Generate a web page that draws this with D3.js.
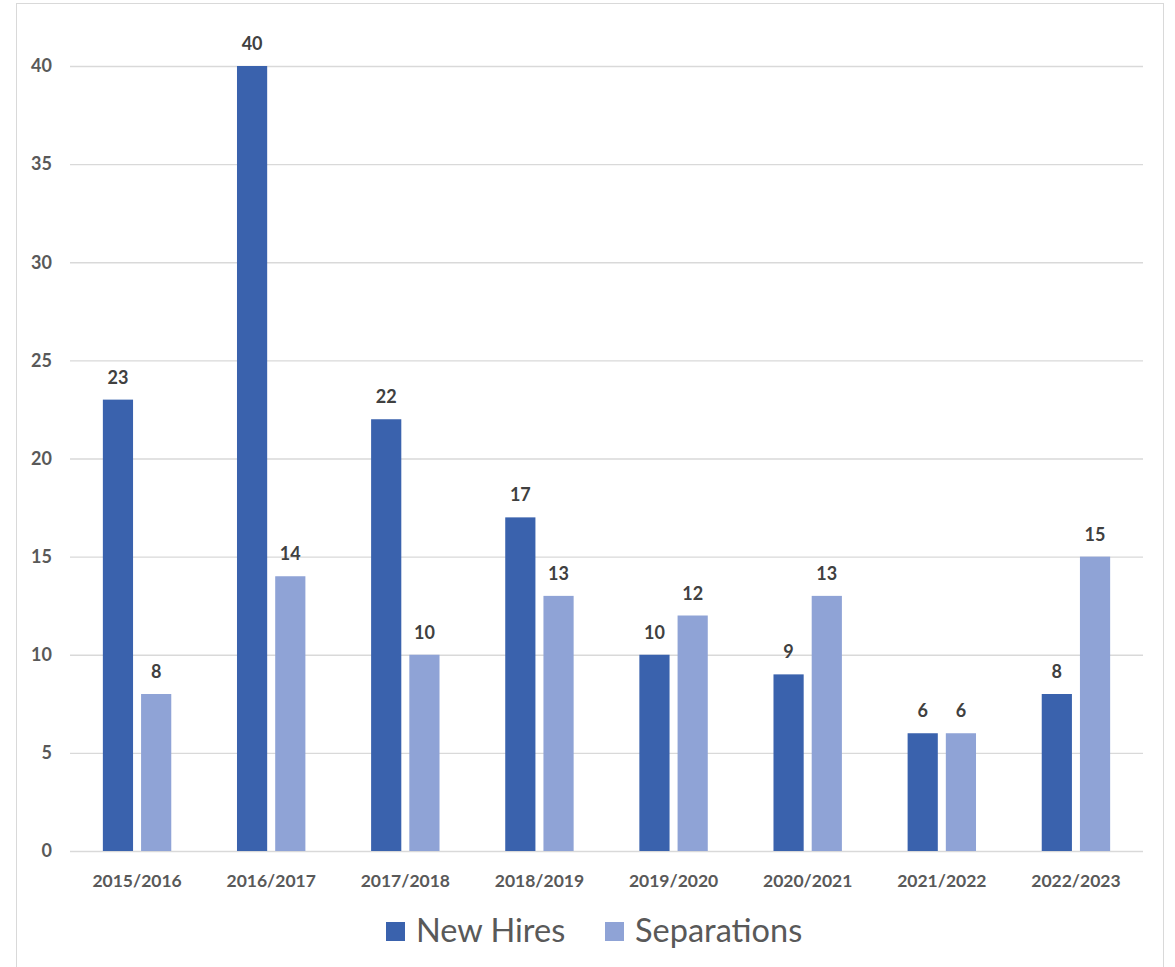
<!DOCTYPE html>
<html><head><meta charset="utf-8">
<script src="https://cdn.jsdelivr.net/npm/d3@7"></script>
<style>body{margin:0;background:#fff}svg{display:block}</style>
</head><body><svg id="c" width="1175" height="967"></svg>
<script>
const categories = ["2015/2016","2016/2017","2017/2018","2018/2019","2019/2020","2020/2021","2021/2022","2022/2023"];
const seriesNames = ["New Hires","Separations"];
const newHires = [23,40,22,17,10,9,6,8];
const separations = [8,14,10,13,12,13,6,15];
const yTicks = [0,5,10,15,20,25,30,35,40];
const colors = ["#3a62ad","#8fa3d6"];

const svg = d3.select("#c");
const font = "Lato, 'Open Sans', sans-serif";
svg.append("rect").attr("x",16.5).attr("y",3.5).attr("width",1147).attr("height",980)
  .attr("fill","#fff").attr("stroke","#d9d9d9");

const mLeft=70, mRight=1143, mTop=66, mBottom=851;
const y = d3.scaleLinear().domain([0,40]).range([mBottom,mTop]);
const x0 = d3.scaleBand().domain(categories).range([mLeft,mRight]).paddingInner(0.49).paddingOuter(0.245);
const x1 = d3.scaleBand().domain(seriesNames).range([0,x0.bandwidth()]).paddingInner(0.21);

const yAxis = d3.axisLeft(y).tickValues(yTicks).tickSize(-(mRight-mLeft)).tickPadding(18);
const gy = svg.append("g").attr("transform",`translate(${mLeft},0)`).call(yAxis);
gy.select(".domain").remove();
gy.selectAll(".tick line").attr("stroke","#d9d9d9").attr("stroke-width",1.3);
gy.selectAll(".tick text").attr("fill","#595959").style("font-family",font).style("font-weight","bold").style("font-size","18px");

const xAxis = d3.axisBottom(x0).tickSize(0).tickPadding(24);
const gx = svg.append("g").attr("transform",`translate(0,${mBottom})`).call(xAxis);
gx.select(".domain").remove();
gx.selectAll(".tick text").attr("fill","#595959").style("font-family",font).style("font-weight","bold").style("font-size","17.5px");

const data = categories.map((c,i)=>({cat:c, vals:[{s:seriesNames[0],v:newHires[i]},{s:seriesNames[1],v:separations[i]}]}));
const g = svg.selectAll(".grp").data(data).join("g").attr("transform",d=>`translate(${x0(d.cat)},0)`);
g.selectAll("rect").data(d=>d.vals).join("rect")
  .attr("x",d=>x1(d.s)).attr("width",x1.bandwidth())
  .attr("y",d=>y(d.v)).attr("height",d=>y(0)-y(d.v))
  .attr("fill",(d,i)=>colors[i]);
g.selectAll("text").data(d=>d.vals).join("text")
  .attr("x",d=>x1(d.s)+x1.bandwidth()/2).attr("y",d=>y(d.v)-16)
  .attr("text-anchor","middle").attr("fill","#404040")
  .style("font-family",font).style("font-weight","bold").style("font-size","18px")
  .text(d=>d.v);

const legendX = [386,605];
const lg = svg.selectAll(".lg").data(seriesNames).join("g").attr("transform",(d,i)=>`translate(${legendX[i]},922)`);
lg.append("rect").attr("width",19).attr("height",19).attr("fill",(d,i)=>colors[i]);
lg.append("text").attr("x",30).attr("y",20).attr("fill","#595959")
  .style("font-family",font).style("font-size","32.5px").text(d=>d);
</script></body></html>
